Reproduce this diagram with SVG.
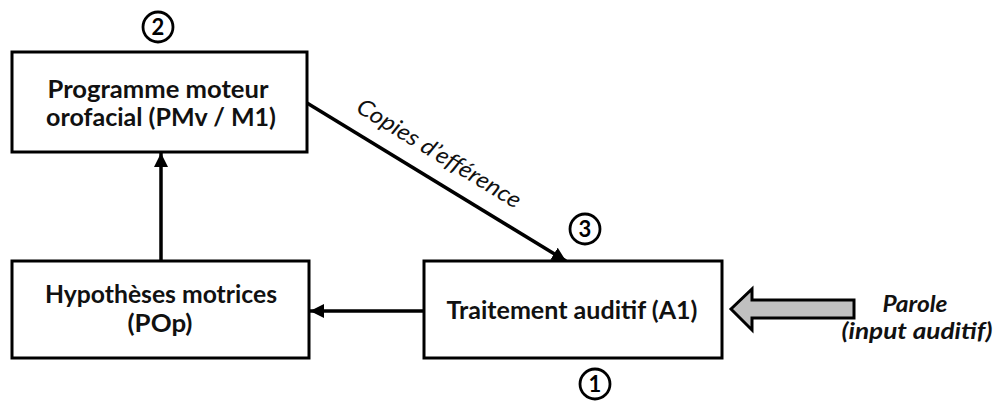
<svg xmlns="http://www.w3.org/2000/svg" width="995" height="401" viewBox="0 0 995 401">
<style>
.box{fill:#fff;stroke:#000;stroke-width:3}
.lbl{font-family:Lato,"Open Sans","Liberation Sans",sans-serif;font-weight:bold;font-size:25px;fill:#111;text-anchor:middle}
.num{font-family:Lato,"Open Sans","Liberation Sans",sans-serif;font-weight:bold;font-size:22px;fill:#000;text-anchor:middle}
.circ{fill:#fff;stroke:#000;stroke-width:2.8}
.con{stroke:#000;stroke-width:3.5;fill:none}
.it{font-family:Lato,"Open Sans","Liberation Sans",sans-serif;font-style:italic;font-size:23px;fill:#111;text-anchor:middle}
.bi{font-family:Lato,"Open Sans","Liberation Sans",sans-serif;font-style:italic;font-weight:bold;font-size:22px;fill:#111;text-anchor:middle}
</style>
<defs>
<marker id="ah" viewBox="0 0 10 10" refX="10" refY="5" markerWidth="4" markerHeight="4" markerUnits="strokeWidth" orient="auto">
<path d="M0,0 L10,5 L0,10 z" fill="#000"/>
</marker>
</defs>
<rect width="995" height="401" fill="#fff"/>
<g id="connectors">
<line class="con" x1="161" y1="261" x2="161" y2="153" marker-end="url(#ah)"/>
<line class="con" x1="424" y1="311" x2="310" y2="311" marker-end="url(#ah)"/>
<line class="con" x1="307" y1="103" x2="566" y2="261" marker-end="url(#ah)"/>
<text class="it" transform="translate(435,160) rotate(31.4)" textLength="188" lengthAdjust="spacingAndGlyphs">Copies d’efférence</text>
<path d="M731,309 L752,289 L752,300 L854,300 L854,318 L752,318 L752,330 Z" fill="#c0c0c0" stroke="#000" stroke-width="3" stroke-linejoin="miter"/>
</g>
<g id="node-pm">
<rect class="box" x="12" y="52" width="295" height="100"/>
<text class="lbl" x="158" y="98" textLength="221" lengthAdjust="spacingAndGlyphs">Programme moteur</text>
<text class="lbl" x="161" y="126" textLength="230" lengthAdjust="spacingAndGlyphs">orofacial (PMv / M1)</text>
</g>
<g id="node-hyp">
<rect class="box" x="12" y="261" width="297" height="97"/>
<text class="lbl" x="161" y="303" textLength="232" lengthAdjust="spacingAndGlyphs">Hypothèses motrices</text>
<text class="lbl" x="160" y="332" textLength="65" lengthAdjust="spacingAndGlyphs">(POp)</text>
</g>
<g id="node-ta">
<rect class="box" x="424" y="261" width="298" height="97"/>
<text class="lbl" x="572" y="319" textLength="251" lengthAdjust="spacingAndGlyphs">Traitement auditif (A1)</text>
</g>
<g id="node-parole">
<text class="bi" x="915" y="312" textLength="65" lengthAdjust="spacingAndGlyphs">Parole</text>
<text class="bi" x="917" y="339" textLength="151" lengthAdjust="spacingAndGlyphs">(input auditif)</text>
</g>
<g id="num-2">
<circle class="circ" cx="158" cy="27" r="15"/>
<text class="num" x="158" y="35">2</text>
</g>
<g id="num-3">
<circle class="circ" cx="585" cy="229" r="15"/>
<text class="num" x="585" y="237">3</text>
</g>
<g id="num-1">
<circle class="circ" cx="595" cy="384" r="15"/>
<text class="num" x="595" y="392">1</text>
</g>
</svg>
